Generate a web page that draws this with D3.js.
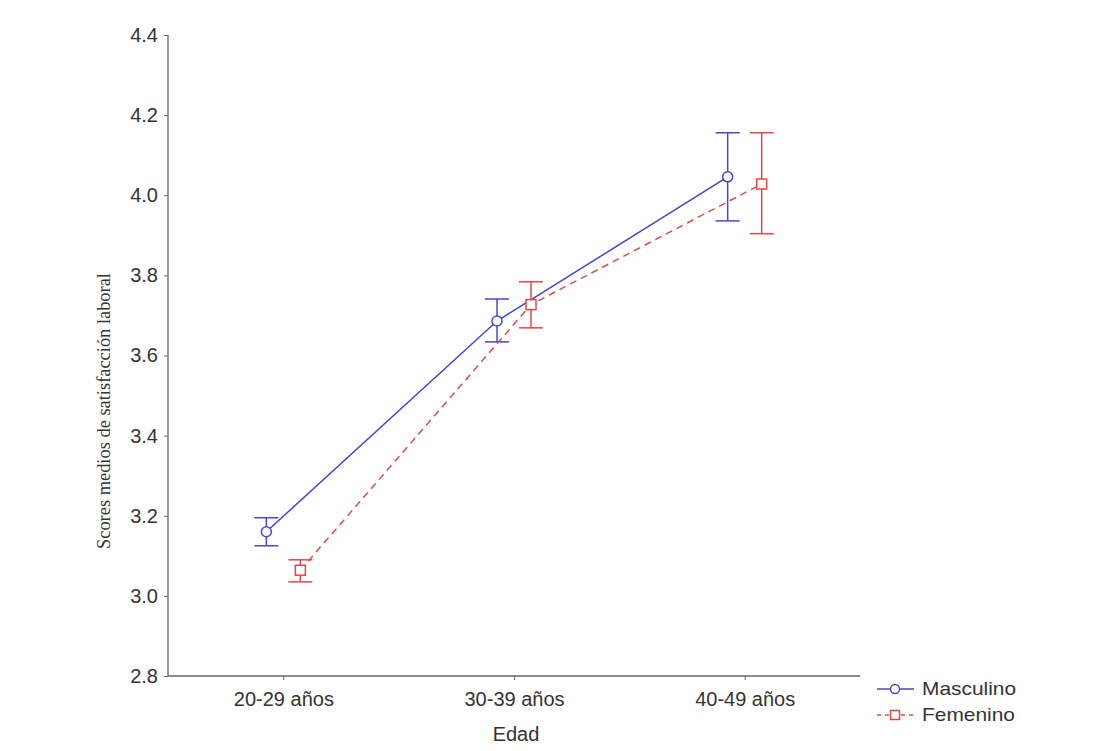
<!DOCTYPE html>
<html><head><meta charset="utf-8">
<script src="https://cdn.jsdelivr.net/npm/d3@7"></script>
<style>body{margin:0;background:#fff}svg{display:block}</style>
</head><body>
<svg id="c" width="1100" height="751"></svg>
<script>
const categories = ["20-29 años", "30-39 años", "40-49 años"];
const seriesNames = ["Masculino", "Femenino"];
const masculinoMean = [3.160, 3.686, 4.046];
const masculinoLow  = [3.125, 3.634, 3.936];
const masculinoHigh = [3.195, 3.741, 4.156];
const femeninoMean  = [3.064, 3.727, 4.028];
const femeninoLow   = [3.035, 3.669, 3.904];
const femeninoHigh  = [3.090, 3.784, 4.156];
const yTicks = [2.8, 3.0, 3.2, 3.4, 3.6, 3.8, 4.0, 4.2, 4.4];

const svg = d3.select("#c");
const L = 168, R = 860, T = 35, B = 676;
const x = d3.scalePoint().domain(categories).range([L, R]).padding(0.5);
const y = d3.scaleLinear().domain([2.8, 4.4]).range([B, T]);
const font = "Arial, 'Liberation Sans', sans-serif";

// axes
const yAx = svg.append("g").attr("transform", `translate(${L},0)`)
  .call(d3.axisLeft(y).tickValues(yTicks).tickFormat(d3.format(".1f")).tickSize(4).tickPadding(6));
const xAx = svg.append("g").attr("transform", `translate(0,${B})`)
  .call(d3.axisBottom(x).tickSize(4).tickPadding(12));
[yAx, xAx].forEach(g => {
  g.select(".domain").attr("stroke", "#666").attr("stroke-width", 1.3);
  g.selectAll(".tick line").attr("stroke", "#666");
  g.selectAll(".tick text").attr("fill", "#333").style("font-family", font).style("font-size", "20px");
});
yAx.select(".domain").attr("d", `M0,${T}V${B}`);
xAx.select(".domain").attr("d", `M${L},0H${R}`);

svg.append("text").attr("transform", `translate(110,411) rotate(-90)`)
  .attr("text-anchor", "middle").attr("fill", "#333")
  .style("font-family", "'Liberation Serif', 'Times New Roman', serif").style("font-size", "19px")
  .attr("textLength", 276).attr("lengthAdjust", "spacingAndGlyphs")
  .text("Scores medios de satisfacción laboral");
svg.append("text").attr("x", 516).attr("y", 741).attr("text-anchor", "middle")
  .attr("fill", "#333").style("font-family", font).style("font-size", "20px").text("Edad");

const series = [
  {name: seriesNames[0], mean: masculinoMean, lo: masculinoLow, hi: masculinoHigh, off: -17, color: "#4848c8", line: "#4444cc", dash: null, shape: "circle"},
  {name: seriesNames[1], mean: femeninoMean, lo: femeninoLow, hi: femeninoHigh, off: 17, color: "#e04848", line: "#d05050", dash: "7,5", shape: "square"}
];

series.forEach(s => {
  const pts = categories.map((c, i) => ({x: x(c) + s.off, m: s.mean[i], lo: s.lo[i], hi: s.hi[i]}));
  svg.append("path").datum(pts)
    .attr("d", d3.line().x(d => d.x).y(d => y(d.m)))
    .attr("fill", "none").attr("stroke", s.line).attr("stroke-width", 1.5)
    .attr("stroke-dasharray", s.dash);
  const g = svg.append("g").attr("stroke", s.color).attr("stroke-width", 1.5);
  pts.forEach(d => {
    g.append("line").attr("x1", d.x).attr("x2", d.x).attr("y1", y(d.lo)).attr("y2", y(d.hi));
    g.append("line").attr("x1", d.x - 12).attr("x2", d.x + 12).attr("y1", y(d.lo)).attr("y2", y(d.lo));
    g.append("line").attr("x1", d.x - 12).attr("x2", d.x + 12).attr("y1", y(d.hi)).attr("y2", y(d.hi));
    if (s.shape === "circle")
      g.append("circle").attr("cx", d.x).attr("cy", y(d.m)).attr("r", 5).attr("fill", "#fff");
    else
      g.append("rect").attr("x", d.x - 5).attr("y", y(d.m) - 5).attr("width", 10).attr("height", 10).attr("fill", "#fff");
  });
});

// legend
series.forEach((s, i) => {
  const ly = 689 + i * 26;
  const g = svg.append("g");
  g.append("line").attr("x1", 877).attr("x2", 914).attr("y1", ly).attr("y2", ly)
    .attr("stroke", s.line).attr("stroke-width", 1.5).attr("stroke-dasharray", s.dash ? "4,4" : null);
  if (s.shape === "circle")
    g.append("circle").attr("cx", 895).attr("cy", ly).attr("r", 4.5).attr("fill", "#fff").attr("stroke", s.color).attr("stroke-width", 1.5);
  else
    g.append("rect").attr("x", 890.5).attr("y", ly - 4.5).attr("width", 9).attr("height", 9).attr("fill", "#fff").attr("stroke", s.color).attr("stroke-width", 1.5);
  const t = g.append("text").attr("x", 922).attr("y", ly + 6).attr("fill", "#333")
    .style("font-family", font).style("font-size", "19px").text(s.name);
  t.attr("textLength", t.node().getComputedTextLength() * 1.1).attr("lengthAdjust", "spacingAndGlyphs");
});
</script>
</body></html>
